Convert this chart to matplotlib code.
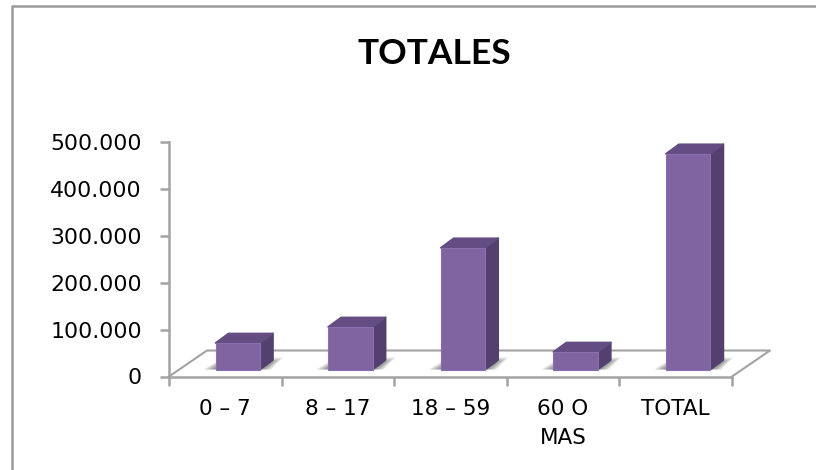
import matplotlib
matplotlib.use('Agg')
import matplotlib.pyplot as plt
from matplotlib.lines import Line2D
from matplotlib.patches import Polygon

categorias = ['0 – 7', '8 – 17', '18 – 59', '60 O\nMAS', 'TOTAL']
totales = [56600, 90800, 259600, 37400, 460000]
ticks_y = [0, 100000, 200000, 300000, 400000, 500000]
etiquetas_y = ['0', '100.000', '200.000', '300.000', '400.000', '500.000']

W, H = 816, 470
gris = '#a3a3a3'
plt.rcParams['font.family'] = ['DejaVu Sans']

fig = plt.figure(figsize=(W / 100, H / 100), dpi=100)

# marco exterior, solo arriba e izquierda
fig.add_artist(Line2D([11.5 / W, 11.5 / W, 1], [0, 1 - 5.7 / H, 1 - 5.7 / H], transform=fig.transFigure,
                      color='#9a9a9a', linewidth=1.8))
fig.text(434.5 / W, 1 - 54 / H, 'TOTALES', fontsize=25.5, fontweight='bold',
         family=['Lato', 'DejaVu Sans'], ha='center', va='center', color='black')

# ejes: 169..732 px en x, 376..142 px en y
ax = fig.add_axes([169 / W, 1 - 376.5 / H, 563 / W, 234.5 / H])
ax.set_xlim(0, 5)
ax.set_ylim(0, 500000)
ax.patch.set_alpha(0)

# factores de profundidad (px a datos)
px_x = 5 / 563
px_y = 500000 / 234.5

# suelo
sx, sy = 38 * px_x, 26 * px_y
ax.plot([0, sx, 5 + sx, 5], [0, sy, sy, 0], color=gris, lw=1.5, clip_on=False, zorder=1)

base = 7 * px_y
ancho = 44.5 * px_x
dx, dy = 13 * px_x, 9.5 * px_y
for i, v in enumerate(totales):
    x0 = i + 46.5 * px_x
    x1 = x0 + ancho
    # sombra difusa en el suelo
    for k in [1.0, 0.85, 0.7, 0.55, 0.4, 0.25, 0.1]:
        ax.add_patch(Polygon([(x0 - (1 + 11 * k) * px_x, base), (x1 + (1 + 10 * k) * px_x, base),
                              (x1 + (10 + 13 * k) * px_x, base + (6 + 6 * k) * px_y),
                              (x0 + 8 * px_x, base + (6 + 6 * k) * px_y)],
                             facecolor='#404040', edgecolor='none', alpha=0.11, zorder=2))
    # cara lateral y superior
    ax.add_patch(Polygon([(x1, base), (x1 + dx, base + dy), (x1 + dx, v + base + dy), (x1, v + base)],
                         facecolor='#54406e', edgecolor='#54406e', lw=1.2, joinstyle='round', zorder=3))
    ax.add_patch(Polygon([(x0, v + base), (x1, v + base), (x1 + dx, v + base + dy), (x0 + dx, v + base + dy)],
                         facecolor='#634d82', edgecolor='#634d82', lw=1.2, joinstyle='round', zorder=3))
    ax.bar(x0 + ancho / 2, v, width=ancho, bottom=base, color='#8064a2',
           edgecolor='#8a6fae', linewidth=0.8, zorder=4)

for s in ['top', 'right']:
    ax.spines[s].set_visible(False)
for s in ['left', 'bottom']:
    ax.spines[s].set_color(gris)
    ax.spines[s].set_linewidth(1.8)

ax.set_yticks(ticks_y)
ax.set_yticklabels(etiquetas_y)
ax.set_xticks(range(6))
ax.set_xticklabels([])
ax.set_xticks([i + 0.5 for i in range(5)], minor=True)
ax.set_xticklabels(categorias, minor=True, linespacing=1.55, va='top')
ax.tick_params(axis='both', which='major', color=gris, width=1.8, length=6.5, labelsize=15.8, pad=13)
ax.tick_params(axis='x', which='minor', length=0, labelsize=15.5, pad=16)

fig.savefig('out.png', dpi=100)
